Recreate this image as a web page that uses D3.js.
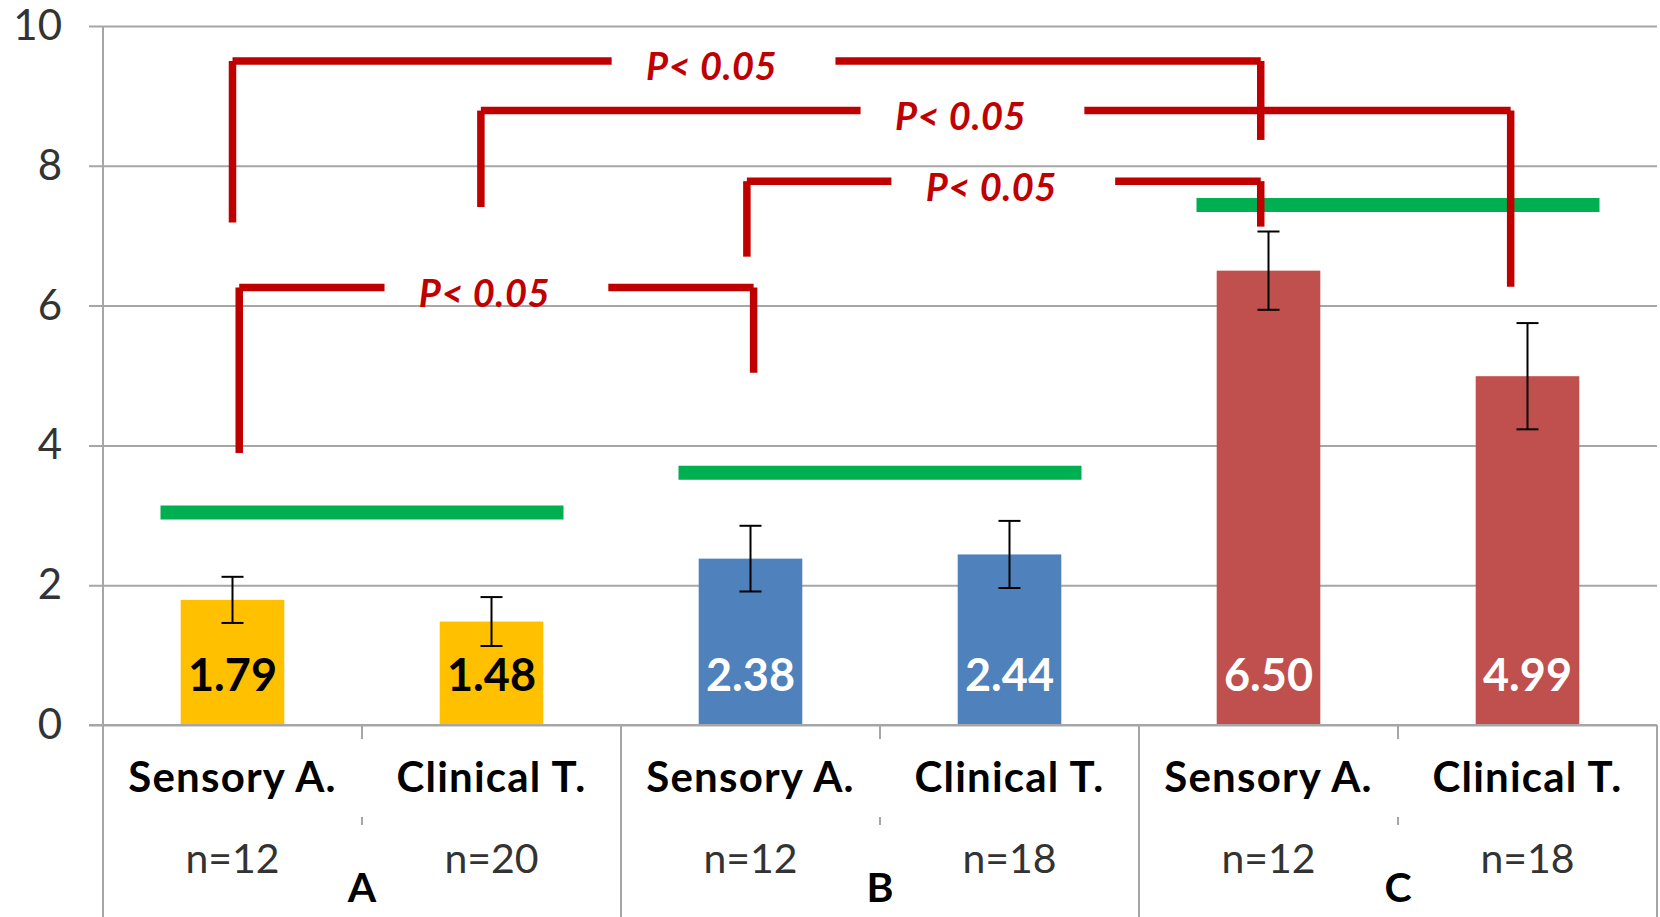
<!DOCTYPE html>
<html>
<head>
<meta charset="utf-8">
<script src="https://cdn.jsdelivr.net/npm/d3@7"></script>
<style>
  html, body { margin: 0; padding: 0; background: #ffffff; }
  svg { display: block; }
  text { font-family: Lato, "Open Sans", sans-serif; }
</style>
</head>
<body>
<svg id="chart" width="1660" height="917"></svg>
<script>
// ---- data ----
const groups = ["A", "B", "C"];
const categories = ["Sensory A.", "Clinical T.", "Sensory A.", "Clinical T.", "Sensory A.", "Clinical T."];
const sampleSizes = ["n=12", "n=20", "n=12", "n=18", "n=12", "n=18"];
const means = [1.79, 1.48, 2.38, 2.44, 6.50, 4.99];
const errors = [0.33, 0.35, 0.47, 0.48, 0.56, 0.76];
const referenceLevels = [3.04, 3.61, 7.44];   // one reference line per group
const yTicks = [0, 2, 4, 6, 8, 10];
const comparisons = [[0, 4], [1, 5], [2, 4], [0, 2]];   // category index pairs
const comparisonLabel = "P< 0.05";

// ---- layout ----
const W = 1660, H = 917;
const plotLeft = 103, plotRight = 1657, plotTop = 26, zeroY = 725;
const groupColors = ["#FFC000", "#4F81BD", "#C0504D"];
const valueLabelColors = ["#000000", "#ffffff", "#ffffff"];
const gridColor = "#a6a6a6";
const bracketColor = "#C00000";
const refColor = "#00B050";

// bracket geometry in axis units (level / leg ends in value units, x nudges in category units)
const bracketLayout = [
  { level: 9.50, legEnds: [7.19, 8.37], nudge: [0.000, -0.030], gapAt: 2.396 },
  { level: 8.79, legEnds: [7.41, 6.27], nudge: [-0.041, -0.065], gapAt: 3.357 },
  { level: 7.78, legEnds: [6.70, 7.13], nudge: [-0.014, -0.030], gapAt: 3.476 },
  { level: 6.26, legEnds: [3.89, 5.04], nudge: [0.026, 0.012], gapAt: 1.519 }
];
const gapHalf = 0.432;

const svg = d3.select("#chart");

const y = d3.scaleLinear().domain([0, 10]).range([zeroY, plotTop]);
const x = d3.scaleBand().domain(d3.range(categories.length))
  .range([plotLeft, plotRight]).paddingInner(0.6).paddingOuter(0.3);
const xu = d3.scaleLinear().domain([0, categories.length]).range([plotLeft, plotRight]);
const groupOf = i => Math.floor(i / 2);

// ---- y axis with gridlines ----
const yAxis = d3.axisLeft(y).tickValues(yTicks)
  .tickSize(-(plotRight - plotLeft)).tickPadding(plotLeft - 62).tickFormat(d3.format("d"));
const ag = svg.append("g").attr("transform", `translate(${plotLeft},0)`).call(yAxis);
ag.select(".domain").remove();
ag.selectAll(".tick line").attr("x1", -14).attr("stroke", gridColor).attr("stroke-width", 2);
ag.selectAll(".tick text").attr("font-size", 42).attr("fill", "#333333")
  .attr("font-family", "Lato, sans-serif");

// vertical axis line running down through the category table
svg.append("line").attr("x1", plotLeft).attr("x2", plotLeft).attr("y1", plotTop).attr("y2", H)
  .attr("stroke", gridColor).attr("stroke-width", 2);

// ---- category table lines ----
const groupEdges = d3.range(1, groups.length + 1).map(g => xu(g * 2));
svg.selectAll("line.gedge").data(groupEdges).join("line").attr("class", "gedge")
  .attr("x1", d => d).attr("x2", d => d).attr("y1", zeroY).attr("y2", H)
  .attr("stroke", gridColor).attr("stroke-width", 2);
const midTicks = groups.map((g, i) => xu(i * 2 + 1));
svg.selectAll("line.mtick").data(midTicks).join("line").attr("class", "mtick")
  .attr("x1", d => d).attr("x2", d => d).attr("y1", zeroY).attr("y2", zeroY + 14)
  .attr("stroke", gridColor).attr("stroke-width", 2);
svg.selectAll("line.mtick2").data(midTicks).join("line").attr("class", "mtick2")
  .attr("x1", d => d).attr("x2", d => d).attr("y1", zeroY + 92).attr("y2", zeroY + 100)
  .attr("stroke", gridColor).attr("stroke-width", 2);

// ---- bars ----
const bars = means.map((v, i) => ({ i, v, e: errors[i], g: groupOf(i) }));
svg.selectAll("rect.bar").data(bars).join("rect").attr("class", "bar")
  .attr("x", d => x(d.i)).attr("width", x.bandwidth())
  .attr("y", d => y(d.v)).attr("height", d => y(0) - y(d.v))
  .attr("fill", d => groupColors[d.g]);

// zero line drawn over bar bases
svg.append("line").attr("x1", plotLeft - 14).attr("x2", plotRight).attr("y1", y(0)).attr("y2", y(0))
  .attr("stroke", gridColor).attr("stroke-width", 2);

// value labels inside bars
svg.selectAll("text.val").data(bars).join("text").attr("class", "val")
  .attr("x", d => x(d.i) + x.bandwidth() / 2).attr("y", y(0) - 34)
  .attr("text-anchor", "middle").attr("font-size", 45).attr("font-weight", 700)
  .attr("fill", d => valueLabelColors[d.g]).text(d => d.v.toFixed(2));

// ---- error bars ----
const eb = svg.selectAll("g.err").data(bars).join("g").attr("class", "err")
  .attr("stroke", "#000").attr("stroke-width", 2);
eb.append("line").attr("x1", d => x(d.i) + x.bandwidth() / 2).attr("x2", d => x(d.i) + x.bandwidth() / 2)
  .attr("y1", d => y(d.v + d.e)).attr("y2", d => y(d.v - d.e));
eb.append("line").attr("x1", d => x(d.i) + x.bandwidth() / 2 - 11).attr("x2", d => x(d.i) + x.bandwidth() / 2 + 11)
  .attr("y1", d => y(d.v + d.e)).attr("y2", d => y(d.v + d.e));
eb.append("line").attr("x1", d => x(d.i) + x.bandwidth() / 2 - 11).attr("x2", d => x(d.i) + x.bandwidth() / 2 + 11)
  .attr("y1", d => y(d.v - d.e)).attr("y2", d => y(d.v - d.e));

// ---- group reference lines ----
svg.selectAll("line.ref").data(referenceLevels).join("line").attr("class", "ref")
  .attr("x1", (d, g) => xu(g * 2 + 1 - 0.778)).attr("x2", (d, g) => xu(g * 2 + 1 + 0.778))
  .attr("y1", d => y(d)).attr("y2", d => y(d))
  .attr("stroke", refColor).attr("stroke-width", 14);

// ---- significance brackets ----
const brackets = comparisons.map((c, k) => ({ c, ...bracketLayout[k] }));
const bg = svg.selectAll("g.bracket").data(brackets).join("g").attr("class", "bracket")
  .attr("fill", "none").attr("stroke", bracketColor).attr("stroke-width", 7.5);
bg.each(function (d) {
  const g = d3.select(this);
  const xl = xu(d.c[0] + 0.5 + d.nudge[0]);
  const xr = xu(d.c[1] + 0.5 + d.nudge[1]);
  const yl = y(d.level);
  g.append("line").attr("x1", xl).attr("x2", xl).attr("y1", yl).attr("y2", y(d.legEnds[0]));
  g.append("line").attr("x1", xr).attr("x2", xr).attr("y1", yl).attr("y2", y(d.legEnds[1]));
  g.append("line").attr("x1", xl).attr("x2", xu(d.gapAt - gapHalf)).attr("y1", yl).attr("y2", yl);
  g.append("line").attr("x1", xu(d.gapAt + gapHalf)).attr("x2", xr).attr("y1", yl).attr("y2", yl);
});
svg.selectAll("text.pval").data(brackets).join("text").attr("class", "pval")
  .attr("x", d => xu(d.gapAt) - 12).attr("y", d => y(d.level) + 19.5)
  .attr("text-anchor", "middle").attr("font-size", 38).attr("font-weight", 700)
  .attr("letter-spacing", 0.5)
  .attr("font-style", "italic").attr("fill", bracketColor).text(comparisonLabel);

// ---- category table text ----
svg.selectAll("text.cat").data(categories).join("text").attr("class", "cat")
  .attr("x", (d, i) => xu(i + 0.5)).attr("y", 792)
  .attr("text-anchor", "middle").attr("font-size", 42).attr("font-weight", 700)
  .attr("letter-spacing", 1.2)
  .attr("fill", "#000").text(d => d);
svg.selectAll("text.nsize").data(sampleSizes).join("text").attr("class", "nsize")
  .attr("x", (d, i) => xu(i + 0.5)).attr("y", 873)
  .attr("text-anchor", "middle").attr("font-size", 41).attr("fill", "#333333").text(d => d);
svg.selectAll("text.grp").data(groups).join("text").attr("class", "grp")
  .attr("x", (d, i) => xu(i * 2 + 1)).attr("y", 902)
  .attr("text-anchor", "middle").attr("font-size", 41).attr("font-weight", 700)
  .attr("fill", "#000").text(d => d);
</script>
</body>
</html>
